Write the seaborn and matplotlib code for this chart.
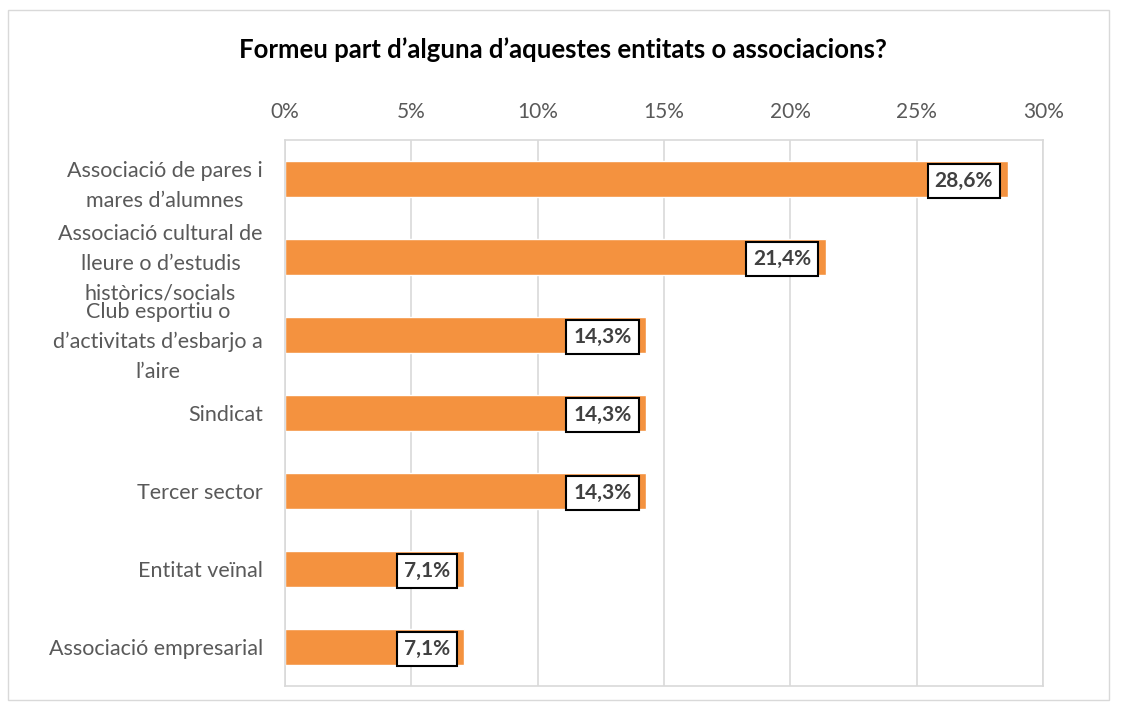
import pandas as pd
import numpy as np
import matplotlib.pyplot as plt
import matplotlib.patches as mpatches
import seaborn as sns

categories = [
    "Associació de pares i\nmares d’alumnes",
    "Associació cultural de\nlleure o d’estudis\nhistòrics/socials",
    "Club esportiu o\nd’activitats d’esbarjo a\nl’aire",
    "Sindicat",
    "Tercer sector",
    "Entitat veïnal",
    "Associació empresarial",
]
values = [28.6, 21.4, 14.3, 14.3, 14.3, 7.1, 7.1]
value_labels = ["28,6%", "21,4%", "14,3%", "14,3%", "14,3%", "7,1%", "7,1%"]
xticks = [0, 5, 10, 15, 20, 25, 30]
xtick_labels = ["0%", "5%", "10%", "15%", "20%", "25%", "30%"]
title = "Formeu part d’alguna d’aquestes entitats o associacions?"

df = pd.DataFrame({"Entitat": categories, "Percentatge": values})

sns.set_theme(style="white")
plt.rcParams['font.family'] = ['Lato', 'DejaVu Sans']

fig = plt.figure(figsize=(11.25, 7.06), dpi=100)
ax = fig.add_axes([0.2533, 0.0283, 0.674, 0.7734])

sns.barplot(data=df, x="Percentatge", y="Entitat", color="#F4923F",
            saturation=1, width=0.45, ax=ax, orient="h")

ax.set_xlim(0, 30)
ax.set_ylim(6.5, -0.5)
ax.set_xticks(xticks)
ax.set_xticklabels(xtick_labels)
ax.xaxis.tick_top()
ax.tick_params(axis='x', length=0, pad=13, labelsize=15, labelcolor="#595959")
ax.tick_params(axis='y', length=0, pad=16, labelsize=15.5, labelcolor="#595959")
for lab in ax.get_yticklabels():
    lab.set_multialignment('center')
    lab.set_linespacing(1.6)
ax.set_xlabel("")
ax.set_ylabel("")
ax.grid(axis='x', color="#D9D9D9", linewidth=1.2)
ax.set_axisbelow(True)
for sp in ax.spines.values():
    sp.set_color("#D9D9D9")
    sp.set_linewidth(1.2)

# etiquetes de valor
for i, (v, lab) in enumerate(zip(values, value_labels)):
    ax.text(v - 0.58, i + 0.03, lab, ha='right', va='center', fontsize=15,
            fontweight='bold', color="#404040",
            bbox=dict(boxstyle='square,pad=0.34', facecolor='white',
                      edgecolor='black', linewidth=1.5))

fig.text(0.5, 0.93, title, ha='center', va='center', fontsize=18.5,
         fontweight='bold', color="black")

# marc exterior
fig.patches.append(mpatches.Rectangle((0.007, 0.008), 0.979, 0.978,
                                      transform=fig.transFigure, fill=False,
                                      edgecolor="#D9D9D9", linewidth=1))

plt.savefig("out.png", dpi=100)
